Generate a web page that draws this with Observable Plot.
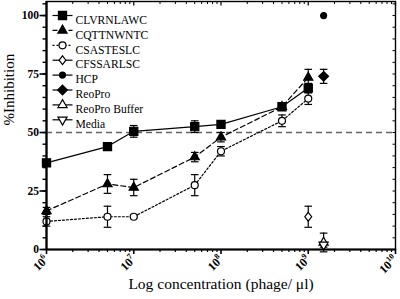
<!DOCTYPE html>
<html><head><meta charset="utf-8">
<script src="https://cdn.jsdelivr.net/npm/d3@7"></script>
<script src="https://cdn.jsdelivr.net/npm/@observablehq/plot@0.6"></script>
<style>body{margin:0;background:#fff}</style>
</head><body><div id="chart"></div>
<script>
// ---- data ----
const concentrations = [1e6, 5e6, 1e7, 5e7, 1e8, 5e8, 1e9];
const clvrnlawc      = [37, 44, 50.5, 52.5, 53.5, 61, 69];
const clvrnlawcErr   = [1, 1.5, 2.5, 2.5, 1.5, 1.5, 2];
const cqttnwntc      = [16.5, 28, 26.5, 39.5, 48, 61, 73.5];
const cqttnwntcErr   = [1.5, 4, 3.5, 2, 2, 1.5, 3.5];
const csasteslc      = [12, 14, 14, 27.5, 42, 55, 64.5];
const csasteslcErr   = [2, 4.5, 0.5, 4.5, 2, 2.5, 2.5];
const cfssarlscConc = [1e9],   cfssarlsc = [14],  cfssarlscErr = [4.5];
const hcpConc       = [1.5e9], hcp = [100],       hcpErr = [0];
const reoproConc    = [1.5e9], reopro = [74],     reoproErr = [3];
const bufferConc    = [1.5e9], reoproBuffer = [3], reoproBufferErr = [4];
const mediaConc     = [1.5e9], media = [2],       mediaErr = [1];
const seriesNames = ["CLVRNLAWC","CQTTNWNTC","CSASTESLC","CFSSARLSC","HCP","ReoPro","ReoPro Buffer","Media"];
const xTickValues = [1e6, 1e7, 1e8, 1e9, 1e10];
const xTickLabels = ["10⁶","10⁷","10⁸","10⁹","10¹⁰"];
const yTickValues = [0, 25, 50, 75, 100];
const refLine = [50];

// ---- symbols ----
const triDown = {draw(ctx, size){const y=-Math.sqrt(size/(Math.sqrt(3)*3)); ctx.moveTo(0,-2*y); ctx.lineTo(-Math.sqrt(3)*y,y); ctx.lineTo(Math.sqrt(3)*y,y); ctx.closePath();}};
const openDiamond = {draw(ctx){ctx.moveTo(0,-4.4); ctx.lineTo(3.4,0); ctx.lineTo(0,4.4); ctx.lineTo(-3.4,0); ctx.closePath();}};
const cap = {draw(ctx){ctx.moveTo(-3.8,0); ctx.lineTo(3.8,0);}};
const legLine = {draw(ctx){ctx.moveTo(-10,0); ctx.lineTo(10,0);}};
const tickDownSym = (l)=>({draw(ctx){ctx.moveTo(0,0); ctx.lineTo(0,l);}});
const tickLeftSym = (l)=>({draw(ctx){ctx.moveTo(0,0); ctx.lineTo(-l,0);}});

const styles = [
  {conc:concentrations, v:clvrnlawc, e:clvrnlawcErr, symbol:"square", fill:"black", r:4.6, dash:null, line:true},
  {conc:concentrations, v:cqttnwntc, e:cqttnwntcErr, symbol:"triangle", fill:"black", r:3.4, dash:"5,3", line:true},
  {conc:concentrations, v:csasteslc, e:csasteslcErr, symbol:"circle", fill:"white", r:3.5, dash:"2,2", line:true},
  {conc:cfssarlscConc, v:cfssarlsc, e:cfssarlscErr, symbol:openDiamond, fill:"white", r:3, dash:null, line:false},
  {conc:hcpConc, v:hcp, e:hcpErr, symbol:"circle", fill:"black", r:3, dash:null, line:false},
  {conc:reoproConc, v:reopro, e:reoproErr, symbol:"diamond2", fill:"black", r:4.4, dash:null, line:false},
  {conc:bufferConc, v:reoproBuffer, e:reoproBufferErr, symbol:"triangle", fill:"white", r:3.4, dash:null, line:false},
  {conc:mediaConc, v:media, e:mediaErr, symbol:triDown, fill:"white", r:3.4, dash:null, line:false}
];

const font = "'Liberation Serif', 'Times New Roman', 'DejaVu Serif', serif";
const marks = [];

marks.push(Plot.ruleY(refLine, {stroke:"#666", strokeWidth:1.4, strokeDasharray:"6,4"}));

styles.forEach((s) => {
  const rows = s.v.map((v,i)=>({x:s.conc[i], y:v, e:s.e[i]}));
  if (s.line) marks.push(Plot.line(rows, {x:"x", y:"y", stroke:"black", strokeWidth:1.2, strokeDasharray:s.dash}));
  const er = rows.filter(d=>d.e>0);
  marks.push(Plot.ruleX(er, {x:"x", y1:d=>d.y-d.e, y2:d=>d.y+d.e, stroke:"black", strokeWidth:1.2}));
  marks.push(Plot.dot(er, {x:"x", y:d=>d.y+d.e, symbol:cap, stroke:"black", strokeWidth:1.2}));
  marks.push(Plot.dot(er, {x:"x", y:d=>d.y-d.e, symbol:cap, stroke:"black", strokeWidth:1.2}));
});
styles.forEach((s) => {
  const rows = s.v.map((v,i)=>({x:s.conc[i], y:v}));
  marks.push(Plot.dot(rows, {x:"x", y:"y", symbol:s.symbol, r:s.r, fill:s.fill, stroke:"black", strokeWidth:1.2}));
});

// legend
seriesNames.forEach((name, i) => {
  const s = styles[i];
  const dy = 14 + i*14.9;
  marks.push(Plot.dot([name], {frameAnchor:"top-left", dx:16, dy, symbol:legLine, stroke:"black", strokeWidth:1.2, strokeDasharray:s.dash}));
  marks.push(Plot.dot([name], {frameAnchor:"top-left", dx:16, dy, symbol:s.symbol, r:s.r, fill:s.fill, stroke:"black", strokeWidth:1.2}));
  marks.push(Plot.text([name], {frameAnchor:"top-left", dx:29, dy, text:d=>d, textAnchor:"start", fontSize:11.6, fontFamily:font, fill:"black"}));
});

// frame, inward ticks top/right
marks.push(Plot.frame({stroke:"black", strokeWidth:1.4}));
const minorX = [];
for (let e=6; e<10; e++) for (let m=2; m<10; m++) minorX.push(m*10**e);
marks.push(Plot.dot(minorX, {x:d=>d, frameAnchor:"top", symbol:tickDownSym(2.5), stroke:"black", strokeWidth:1}));
marks.push(Plot.dot(xTickValues, {x:d=>d, frameAnchor:"top", symbol:tickDownSym(4), stroke:"black", strokeWidth:1.2}));
marks.push(Plot.dot(d3.range(0,106,5), {y:d=>d, frameAnchor:"right", symbol:tickLeftSym(3), stroke:"black", strokeWidth:1}));

// axes
marks.push(Plot.axisY(d3.range(0,106,5), {tickSize:3.5, text:null, label:null, strokeWidth:1.4}));
marks.push(Plot.axisY(yTickValues, {tickSize:6.5, tickPadding:1, label:null, strokeWidth:1.6, fontWeight:"bold", fontSize:11.5, fontFamily:font,
  tickFormat:d=>String(d)}));
marks.push(Plot.axisX(minorX, {tickSize:3, text:null, label:null, strokeWidth:1.2}));
marks.push(Plot.axisX(xTickValues, {tickSize:5, tickPadding:3, tickRotate:-45, label:null, strokeWidth:1.6, fontWeight:"bold", fontSize:12, fontFamily:font,
  ariaLabel:"xticklabels", tickFormat:d=>xTickLabels[xTickValues.indexOf(d)]}));
marks.push(Plot.ruleX([1e6], {stroke:"black", strokeWidth:2.2}));
marks.push(Plot.ruleY([0], {stroke:"black", strokeWidth:2.2}));

// axis titles
marks.push(Plot.text(["Log concentration (phage/ μl)"], {frameAnchor:"bottom", dy:39, text:d=>d, fontSize:15.5, fontFamily:font, fill:"black"}));
marks.push(Plot.text(["%Inhibition"], {frameAnchor:"left", dx:-37, rotate:-90, text:d=>d, fontSize:15, fontFamily:font, fill:"black"}));

const chart = Plot.plot({
  width:400, height:299,
  marginLeft:46, marginRight:5, marginTop:1, marginBottom:50,
  x:{type:"log", domain:[1e6,1e10]},
  y:{domain:[0,106]},
  style:{fontFamily:font, background:"white", color:"black"},
  marks
});

// render exponents as real superscript tspans
const supMap = {"⁰":"0","¹":"1","²":"2","³":"3","⁴":"4","⁵":"5","⁶":"6","⁷":"7","⁸":"8","⁹":"9"};
chart.querySelectorAll("text").forEach(t => {
  const s = t.textContent;
  if (/^10[⁰¹²³⁴⁵⁶⁷⁸⁹]+$/.test(s)) {
    const exp = [...s.slice(2)].map(c=>supMap[c]).join("");
    t.textContent = "";
    const b = document.createElementNS("http://www.w3.org/2000/svg","tspan");
    b.textContent = "10";
    const e = document.createElementNS("http://www.w3.org/2000/svg","tspan");
    e.textContent = exp;
    e.setAttribute("dy","-5");
    e.setAttribute("font-size","8");
    t.appendChild(b); t.appendChild(e);
  }
});
document.getElementById("chart").appendChild(chart);
</script>
</body></html>
